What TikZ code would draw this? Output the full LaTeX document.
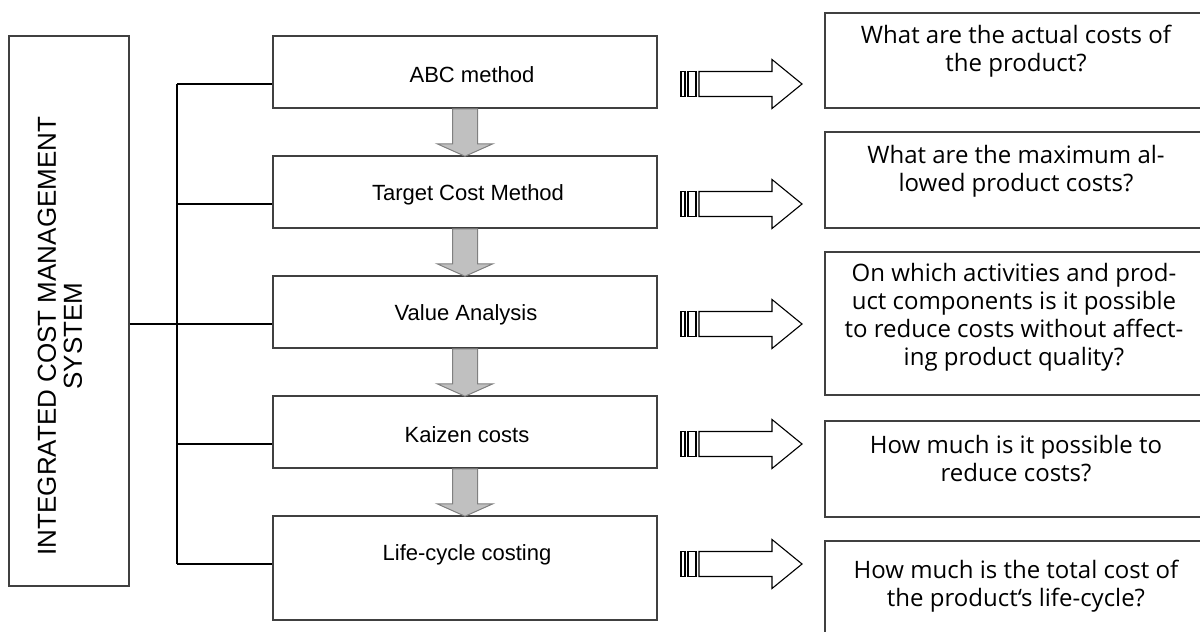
\documentclass[tikz,border=0pt]{standalone}
\usepackage{fontspec}
\setmainfont{Liberation Sans}
\newfontfamily\qfont{Open Sans}
\usetikzlibrary{calc}
\definecolor{boxline}{HTML}{404040}
\definecolor{arrfill}{HTML}{C0C0C0}
\definecolor{arrline}{HTML}{808080}
\begin{document}
\begin{tikzpicture}[x=1pt,y=-1pt,
  midbox/.style={draw=boxline,line width=1.5pt,minimum width=384pt,minimum height=72pt,inner sep=0pt},
  midtxt/.style={font=\fontsize{22}{26}\selectfont,inner sep=0pt},
  rbox/.style={draw=boxline,line width=1.5pt,minimum width=386pt,minimum height=96pt,inner sep=0pt},
  qtxt/.style={font=\qfont\fontsize{24}{28}\selectfont,align=center,inner sep=0pt},
  bracket/.style={line width=1.5pt,black},
  grayarr/.style={fill=arrfill,draw=arrline,line width=1pt,line join=miter},
  stripearr/.style={draw=black,line width=1.1pt,fill=white,line join=miter}]
\useasboundingbox (0,0) rectangle (1200,632);
\clip (0,0) rectangle (1200,632);
% left box
\node[draw=boxline,line width=1.5pt,minimum width=120pt,minimum height=550pt,inner sep=0pt] (L) at (69,311) {};
\node[rotate=90,align=center,font=\fontsize{26}{26}\selectfont,inner sep=0pt] (Lt) at (60,336) {INTEGRATED COST MANAGEMENT\\SYSTEM};
% middle boxes
\node[midbox] (m1) at (465,72) {};
\node[midbox] (m2) at (465,192) {};
\node[midbox] (m3) at (465,312) {};
\node[midbox] (m4) at (465,432) {};
\node[midbox,minimum height=104pt] (m5) at (465,568) {};
\node[midtxt] (t1) at (472,75) {ABC method};
\node[midtxt] (t2) at (468,195) {Target Cost Method};
\node[midtxt] (t3) at (466,315) {Value Analysis};
\node[midtxt] (t4) at (467,435) {Kaizen costs};
\node[midtxt] (t5) at (467,555) {Life-cycle costing};
% bracket
\foreach \k/\yy in {1/84,2/204,3/324,4/444,5/564}{
  \coordinate (br\k) at (177,\yy);
  \draw[bracket] (br\k) -- (m\k.west |- br\k);
}
\draw[bracket] (br1) -- (br5);
\draw[bracket] (L.east |- br3) -- (br3);
% gray down arrows
\foreach \a/\b in {m1/m2,m2/m3,m3/m4,m4/m5}{
  \draw[grayarr] ($(\a.south)+(-12.5,0)$) -- ($(\a.south)+(12.5,0)$) -- ($(\a.south)+(12.5,35)$)
    -- ($(\a.south)+(28,35)$) -- ($(\b.north)+(0,1)$) -- ($(\a.south)+(-28,35)$)
    -- ($(\a.south)+(-12.5,35)$) -- cycle;
}
% right boxes
\node[rbox,minimum height=95pt] (r1) at (1018,60.5) {};
\node[rbox] (r2) at (1018,180) {};
\node[rbox,minimum height=143pt] (r3) at (1018,323.5) {};
\node[rbox] (r4) at (1018,469) {};
\node[rbox] (r5) at (1018,589) {};
\node[qtxt] (q1) at (1016,51) {What are the actual costs of\\the product?};
\node[qtxt] (q2) at (1016,171) {What are the maximum al-\\lowed product costs?};
\node[qtxt] (q3) at (1014,317) {On which activities and prod-\\uct components is it possible\\to reduce costs without affect-\\ing product quality?};
\node[qtxt] (q4) at (1016,459) {How much is it possible to\\reduce costs?};
\node[qtxt] (q5) at (1016,586) {How much is the total cost of\\the product‘s life-cycle?};
% striped arrows
\foreach \k in {1,...,5}{
  \coordinate (sa\k) at (681,0 |- br\k);
  \draw[stripearr] ($(sa\k)+(0,-12.5)$) rectangle ($(sa\k)+(4,12.5)$);
  \draw[stripearr] ($(sa\k)+(7,-12.5)$) rectangle ($(sa\k)+(15,12.5)$);
  \draw[stripearr] ($(sa\k)+(18,-12.5)$) -- ($(sa\k)+(91,-12.5)$) -- ($(sa\k)+(91,-24.5)$)
     -- ($(sa\k)+(121,0)$) -- ($(sa\k)+(91,24.5)$) -- ($(sa\k)+(91,12.5)$)
     -- ($(sa\k)+(18,12.5)$) -- cycle;
}
\end{tikzpicture}
\end{document}
